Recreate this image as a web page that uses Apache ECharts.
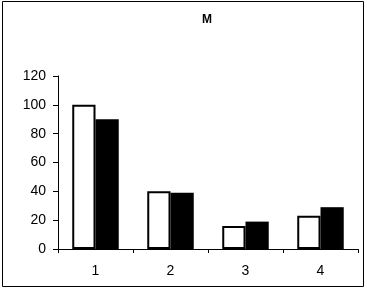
<!DOCTYPE html>
<html>
<head>
<meta charset="utf-8">
<script src="https://cdn.jsdelivr.net/npm/echarts@6/dist/echarts.min.js"></script>
<style>html,body{margin:0;padding:0;background:#fff;}#c{width:367px;height:289px;}</style>
</head>
<body>
<div id="c"></div>
<script>
var categories = ['1', '2', '3', '4'];
var seriesWhite = [100, 40, 16, 23];
var seriesBlack = [90, 39, 19, 29];
var yTicks = {min: 0, max: 120, interval: 20};

var chart = echarts.init(document.getElementById('c'), null, {renderer: 'canvas'});
chart.setOption({
  animation: false,
  backgroundColor: '#fff',
  title: {
    text: 'M', left: 202, top: 9, textAlign: 'center',
    textStyle: {fontFamily: 'Liberation Sans', fontSize: 12, fontWeight: 'bold', color: '#000'}
  },
  graphic: [{
    type: 'rect', shape: {x: 2.5, y: 1.5, width: 361, height: 285},
    style: {fill: null, stroke: '#000', lineWidth: 1}, silent: true
  }],
  grid: {left: 58, right: 9, top: 76, bottom: 40},
  xAxis: {
    type: 'category', data: categories,
    axisLine: {lineStyle: {color: '#000', width: 1}},
    axisTick: {show: true, length: 4, lineStyle: {color: '#000'}},
    axisLabel: {color: '#000', fontFamily: 'Liberation Sans', fontSize: 14, margin: 15}
  },
  yAxis: {
    type: 'value', min: yTicks.min, max: yTicks.max, interval: yTicks.interval,
    splitLine: {show: false},
    axisLine: {show: true, lineStyle: {color: '#000', width: 1}},
    axisTick: {show: true, length: 5, lineStyle: {color: '#000'}},
    axisLabel: {color: '#000', fontFamily: 'Liberation Sans', fontSize: 14, margin: 12}
  },
  series: [{
    type: 'bar', data: seriesWhite, barGap: '0%', barCategoryGap: '38%',
    itemStyle: {color: '#fff', borderColor: '#000', borderWidth: 2}
  }, {
    type: 'bar', data: seriesBlack,
    itemStyle: {color: '#000', borderColor: '#000', borderWidth: 0}
  }]
});
</script>
</body>
</html>
